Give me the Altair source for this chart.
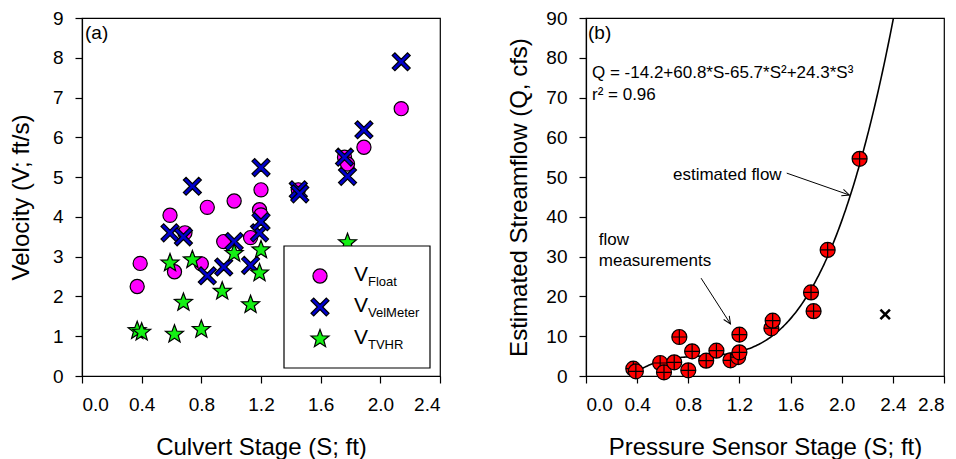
import altair as alt
import numpy as np
import pandas as pd

FONT = "Liberation Sans"

# ---------------- panel (a): velocity vs culvert stage ----------------
float_stage = [0.37, 0.39, 0.59, 0.62, 0.69, 0.80, 0.84, 0.95, 1.02, 1.13, 1.19, 1.20, 1.20, 1.45, 1.76, 1.78, 1.89, 2.14]
float_vel = [2.25, 2.83, 4.04, 2.62, 3.60, 2.82, 4.24, 3.38, 4.40, 3.48, 4.18, 4.05, 4.68, 4.68, 5.50, 5.33, 5.75, 6.72]

velm_stage = [0.59, 0.68, 0.74, 0.84, 0.95, 1.02, 1.13, 1.19, 1.20, 1.20, 1.45, 1.46, 1.76, 1.78, 1.89, 2.14]
velm_vel = [3.60, 3.50, 4.77, 2.52, 2.74, 3.38, 2.78, 3.60, 3.88, 5.24, 4.68, 4.58, 5.50, 5.02, 6.19, 7.90]

tvhr_stage = [0.37, 0.40, 0.59, 0.62, 0.68, 0.74, 0.80, 0.94, 1.02, 1.13, 1.19, 1.20, 1.78]
tvhr_vel = [1.14, 1.10, 2.84, 1.05, 1.85, 2.92, 1.17, 2.13, 3.08, 1.79, 2.59, 3.17, 3.35]

# ---------------- panel (b): streamflow vs pressure sensor stage ----------------
flow_stage = [0.37, 0.39, 0.58, 0.61, 0.69, 0.73, 0.80, 0.83, 0.94, 1.02, 1.13, 1.19, 1.20, 1.20, 1.45, 1.46, 1.76, 1.78, 1.89, 2.14]
flow_q = [1.84, 1.18, 3.27, 0.93, 3.44, 9.8, 1.43, 6.2, 3.85, 6.36, 3.94, 4.77, 5.95, 10.4, 12.0, 13.9, 21.0, 16.3, 31.7, 54.6]
outlier_stage = [2.34]
outlier_q = [15.5]
fit_coef = [-14.2, 60.8, -65.7, 24.3]   # Q = c0 + c1*S + c2*S^2 + c3*S^3
fit_start, fit_end = 0.37, 2.42

x_ticks_a = [0.0, 0.4, 0.8, 1.2, 1.6, 2.0, 2.4]
y_ticks_a = [0, 1, 2, 3, 4, 5, 6, 7, 8, 9]
x_ticks_b = [0.0, 0.4, 0.8, 1.2, 1.6, 2.0, 2.4, 2.8]
y_ticks_b = [0, 10, 20, 30, 40, 50, 60, 70, 80, 90]

W, H = 358, 358

# marker shapes (unit box -1..1)
STAR = ("M0,-1L0.247,-0.34L0.951,-0.309L0.399,0.13L0.588,0.809L0,0.42"
        "L-0.588,0.809L-0.399,0.13L-0.951,-0.309L-0.247,-0.34Z")
A = 0.3
XSHAPE = (f"M-1,{-1+A}L{-1+A},-1L0,{-A}L{1-A},-1L1,{-1+A}L{A},0L1,{1-A}L{1-A},1"
          f"L0,{A}L{-1+A},1L-1,{1-A}L{-A},0Z")
CROSSCIRC = "M-1,0A1,1,0,1,0,1,0A1,1,0,1,0,-1,0ZM-1,0L1,0M0,-1L0,1"
SMALLX = "M-1,-1L1,1M-1,1L1,-1"
ARROWHEAD = "M-0.45,1L0,0L0.45,1"

MAGENTA = "#FF00FF"
BLUE = "#0000CC"
GREEN = "#14F014"
RED = "#FF0000"

one = pd.DataFrame({"k": [0]})


def txt(text, x, y, size, align="left", baseline="alphabetic"):
    return alt.Chart(one).mark_text(
        text=text, font=FONT, fontSize=size, align=align, baseline=baseline, color="black"
    ).encode(x=alt.value(x), y=alt.value(y))


def sym(shape, x, y, size, fill, strokeWidth=1.2):
    return alt.Chart(one).mark_point(
        shape=shape, size=size, filled=True, fill=fill, stroke="black",
        strokeWidth=strokeWidth, opacity=1, fillOpacity=1, strokeOpacity=1
    ).encode(x=alt.value(x), y=alt.value(y))


# ---------- panel (a) ----------
xa = alt.X("s:Q", scale=alt.Scale(domain=[0, 2.4], nice=False, zero=False),
           axis=alt.Axis(values=x_ticks_a, format=".1f", title="Culvert Stage (S; ft)"))
ya = alt.Y("v:Q", scale=alt.Scale(domain=[0, 9], nice=False),
           axis=alt.Axis(values=y_ticks_a, format="d", title="Velocity (V; ft/s)", titlePadding=19))

df_float = pd.DataFrame({"s": float_stage, "v": float_vel})
df_velm = pd.DataFrame({"s": velm_stage, "v": velm_vel})
df_tvhr = pd.DataFrame({"s": tvhr_stage, "v": tvhr_vel})

pts_float = alt.Chart(df_float).mark_point(
    shape="circle", size=200, filled=True, fill=MAGENTA, stroke="black", strokeWidth=1.2,
    opacity=1, fillOpacity=1).encode(x=xa, y=ya)
pts_velm = alt.Chart(df_velm).mark_point(
    shape=XSHAPE, size=324, filled=True, fill=BLUE, stroke="black", strokeWidth=1.2,
    opacity=1, fillOpacity=1).encode(x=xa, y=ya)
pts_tvhr = alt.Chart(df_tvhr).mark_point(
    shape=STAR, size=360, filled=True, fill=GREEN, stroke="black", strokeWidth=1.2,
    opacity=1, fillOpacity=1).encode(x=xa, y=ya)

legend_box = alt.Chart(one).mark_rect(fill="white", stroke="black", strokeWidth=1.2).encode(
    x=alt.value(202), x2=alt.value(348), y=alt.value(228), y2=alt.value(350))

legend_layers = [
    legend_box,
    sym("circle", 238, 258, 200, MAGENTA),
    sym(XSHAPE, 238, 289, 324, BLUE),
    sym(STAR, 238, 321, 360, GREEN),
    txt("V", 272, 263, 21), txt("Float", 286, 268, 13),
    txt("V", 272, 294, 21), txt("VelMeter", 286, 299, 13),
    txt("V", 272, 326, 21), txt("TVHR", 286, 331, 13),
]

panel_a = alt.layer(
    pts_float, pts_velm, pts_tvhr, *legend_layers,
    txt("(a)", 3, 15, 19, baseline="middle"),
).properties(width=W, height=H)

# ---------- panel (b) ----------
xb_scale = alt.Scale(domain=[0, 2.8], nice=False, zero=False)
yb_scale = alt.Scale(domain=[0, 90], nice=False)
xb_axis = alt.Axis(values=x_ticks_b, format=".1f", title="Pressure Sensor Stage (S; ft)")
yb_axis = alt.Axis(values=y_ticks_b, format="d", title="Estimated Streamflow (Q, cfs)", titlePadding=14)
xb = alt.X("s:Q", scale=xb_scale, axis=xb_axis)
yb = alt.Y("q:Q", scale=yb_scale, axis=yb_axis)


def dx_(v):
    return alt.XDatum(v, type="quantitative", scale=xb_scale, axis=xb_axis)


def dy_(v):
    return alt.YDatum(v, type="quantitative", scale=yb_scale, axis=yb_axis)


s_fit = np.round(np.arange(fit_start, fit_end + 1e-9, 0.01), 3)
q_fit = sum(c * s_fit ** i for i, c in enumerate(fit_coef))
df_fit = pd.DataFrame({"s": s_fit, "q": q_fit})
df_flow = pd.DataFrame({"s": flow_stage, "q": flow_q})
df_out = pd.DataFrame({"s": outlier_stage, "q": outlier_q})

fit_line = alt.Chart(df_fit).mark_line(color="black", strokeWidth=1.6, clip=True).encode(x=xb, y=yb)
flow_pts = alt.Chart(df_flow).mark_point(
    shape=CROSSCIRC, size=225, filled=True, fill=RED, stroke="black", strokeWidth=1.2,
    opacity=1, fillOpacity=1).encode(x=xb, y=yb)
out_pt = alt.Chart(df_out).mark_point(
    shape=SMALLX, size=90, filled=False, stroke="black", strokeWidth=2.6, opacity=1).encode(x=xb, y=yb)

px_x = W / 2.8
px_y = H / 90.0


def arrow(x0, y0, x1, y1):
    dx = (x1 - x0) * px_x
    dy = -(y1 - y0) * px_y
    n = (dx ** 2 + dy ** 2) ** 0.5
    bx, by = -dx / n, -dy / n
    ang = float(np.degrees(np.arctan2(-bx, by))) % 360
    line = alt.Chart(one).mark_rule(color="black", strokeWidth=1).encode(
        x=dx_(x0), y=dy_(y0), x2=alt.datum(x1), y2=alt.datum(y1))
    head = alt.Chart(one).mark_point(
        shape=ARROWHEAD, size=220, filled=False, stroke="black", strokeWidth=1,
        angle=ang, opacity=1).encode(x=dx_(x1), y=dy_(y1))
    return [line, head]


def dtxt(text, x, y, size, align="left", baseline="middle"):
    return alt.Chart(one).mark_text(
        text=text, font=FONT, fontSize=size, align=align, baseline=baseline, color="black"
    ).encode(x=dx_(x), y=dy_(y))


panel_b = alt.layer(
    fit_line, flow_pts, out_pt,
    *arrow(1.57, 51.0, 2.06, 45.5),
    *arrow(0.90, 24.6, 1.13, 13.1),
    txt("(b)", 2, 15, 19, baseline="middle"),
    txt("Q = -14.2+60.8*S-65.7*S²+24.3*S³", 6, 55, 17, baseline="middle"),
    txt("r² = 0.96", 6, 77, 17, baseline="middle"),
    dtxt("estimated flow", 1.53, 50.5, 17, align="right"),
    dtxt("flow", 0.10, 34.2, 17),
    dtxt("measurements", 0.10, 28.9, 17),
).properties(width=W, height=H)

chart = alt.hconcat(panel_a, panel_b, spacing=65).properties(
    padding={"left": 0, "top": 0, "right": 0, "bottom": 0}
).configure_view(
    stroke="black", strokeWidth=1.2
).configure_axis(
    grid=False, tickSize=7, tickColor="black", domainColor="black", tickWidth=1.2, domainWidth=1.2,
    labelColor="black", titleColor="black", labelFont=FONT, titleFont=FONT,
    labelFontSize=19, titleFontSize=24, titleFontWeight="normal", labelPadding=12,
    labelOverlap=False
).configure_axisX(titlePadding=21)

chart.save("out.html", embed_options={"renderer": "svg", "actions": False})
